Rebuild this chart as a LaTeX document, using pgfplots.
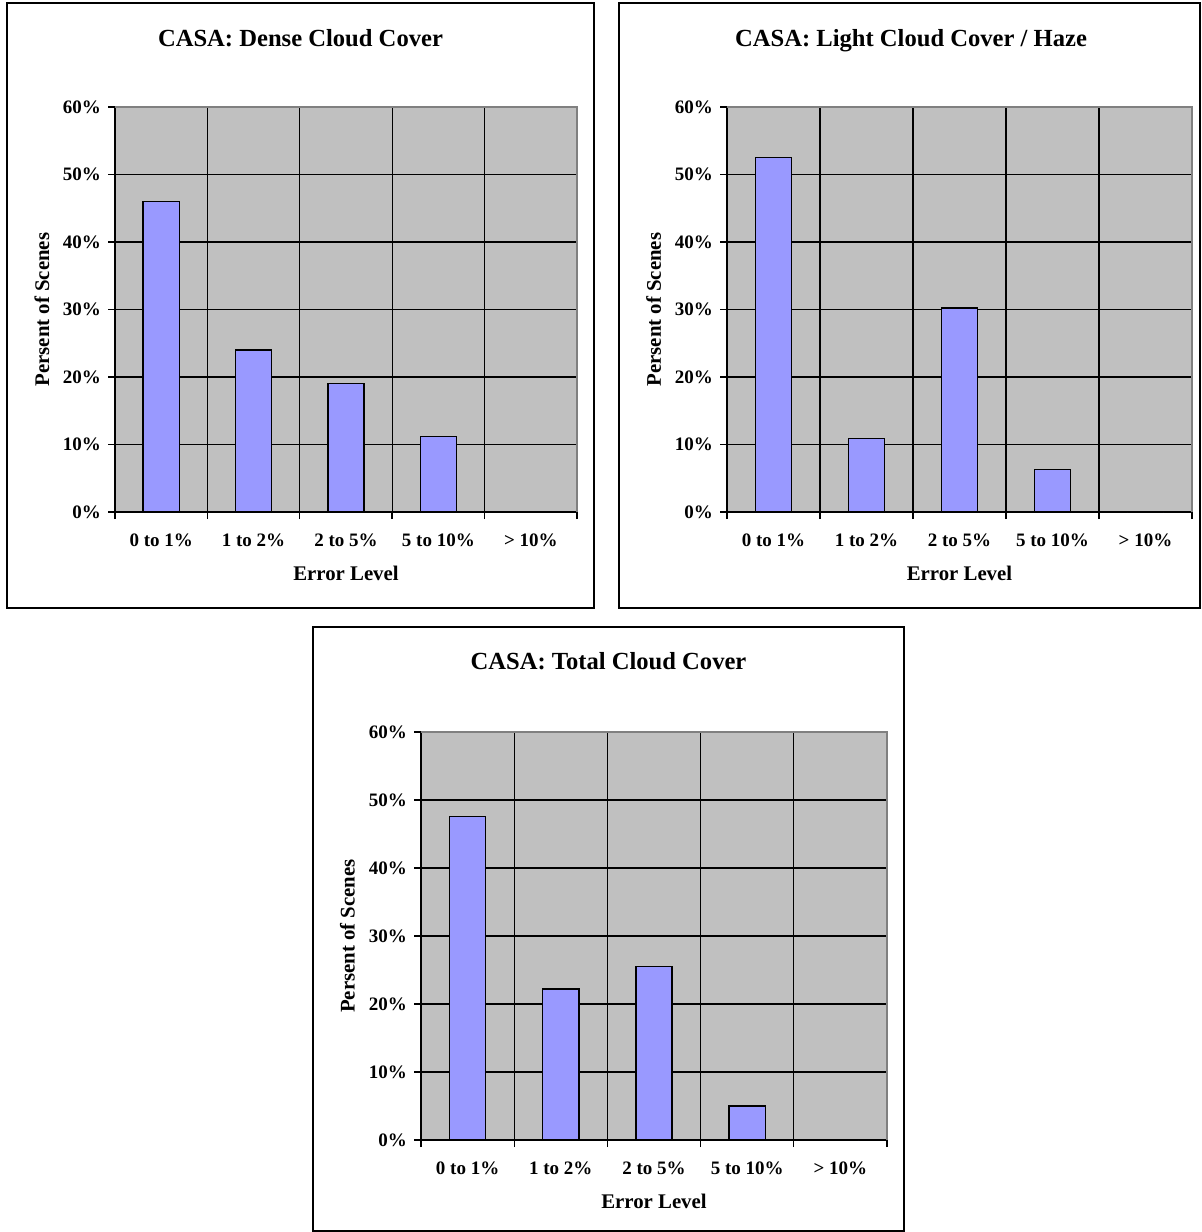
\documentclass[border=0pt]{standalone}
\usepackage{fontspec}
\setmainfont{Liberation Serif}
\usepackage{pgfplots}
\pgfplotsset{compat=1.18}
\definecolor{plotgray}{RGB}{192,192,192}
\definecolor{barblue}{RGB}{153,153,255}
\definecolor{framegray}{RGB}{128,128,128}

\pgfplotsset{casa/.style={
  scale only axis, anchor=south west,
  xmin=0.5, xmax=5.5, ymin=0, ymax=60,
  axis x line*=bottom, axis y line*=left,
  axis line style={black, line width=0.7pt, -},
  axis background/.style={fill=plotgray},
  xtick={0.5,1.5,2.5,3.5,4.5,5.5},
  x tick label as interval,
  xticklabels={0 to 1\%, 1 to 2\%, 2 to 5\%, 5 to 10\%, > 10\%},
  ytick={0,10,20,30,40,50,60},
  yticklabels={0\%,10\%,20\%,30\%,40\%,50\%,60\%},
  grid=major, grid style={black, line width=0.65pt},
  tick align=outside, major tick length=3.5pt,
  tick style={black, line width=0.7pt},
  ticklabel style={font=\fontsize{9.5}{11}\selectfont\bfseries},
  xticklabel style={yshift=-4pt},
  xlabel={Error Level}, ylabel={Persent of Scenes},
  every axis x label/.style={at={(axis description cs:0.5,-0.1506)}, anchor=center,
    font=\fontsize{10.4}{12}\selectfont\bfseries},
  every axis y label/.style={at={(axis description cs:-0.158,0.5)}, anchor=center, rotate=90,
    font=\fontsize{10.4}{12}\selectfont\bfseries},
  ybar, bar width=0.39,
  after end axis/.code={\draw[framegray, line width=0.8pt] (rel axis cs:0,1) -- (rel axis cs:1,1) -- (rel axis cs:1,0);},
}}

\begin{document}
\begin{tikzpicture}
\useasboundingbox (0,0) rectangle (600.5pt,-616pt);

% frames
\draw[line width=1pt] (3.5pt,-1.5pt) rectangle (297pt,-304pt);
\draw[line width=1pt] (309.5pt,-1.5pt) rectangle (600pt,-304pt);
\draw[line width=1pt] (156.5pt,-313.5pt) rectangle (452pt,-615.5pt);

\tikzset{ttl/.style={anchor=base, inner sep=0pt, font=\fontsize{12.3}{14}\selectfont\bfseries}}
\node[ttl] at (150.25pt,-23.2pt) {CASA: Dense Cloud Cover};
\node[ttl] at (455.5pt,-23.2pt) {CASA: Light Cloud Cover / Haze};
\node[ttl] at (304.25pt,-334.7pt) {CASA: Total Cloud Cover};

\begin{axis}[casa, at={(57.5pt,-256pt)}, width=231pt, height=202.5pt]
\addplot[fill=barblue, draw=black, line width=0.7pt] coordinates {(1,46.0)(2,24.0)(3,19.0)(4,11.2)(5,0)};
\end{axis}

\begin{axis}[casa, at={(363.5pt,-256pt)}, width=232.5pt, height=202.5pt]
\addplot[fill=barblue, draw=black, line width=0.7pt] coordinates {(1,52.5)(2,10.9)(3,30.2)(4,6.3)(5,0)};
\end{axis}

\begin{axis}[casa, at={(210.5pt,-570pt)}, width=233pt, height=204pt]
\addplot[fill=barblue, draw=black, line width=0.7pt] coordinates {(1,47.6)(2,22.2)(3,25.5)(4,5.0)(5,0)};
\end{axis}
\end{tikzpicture}
\end{document}
